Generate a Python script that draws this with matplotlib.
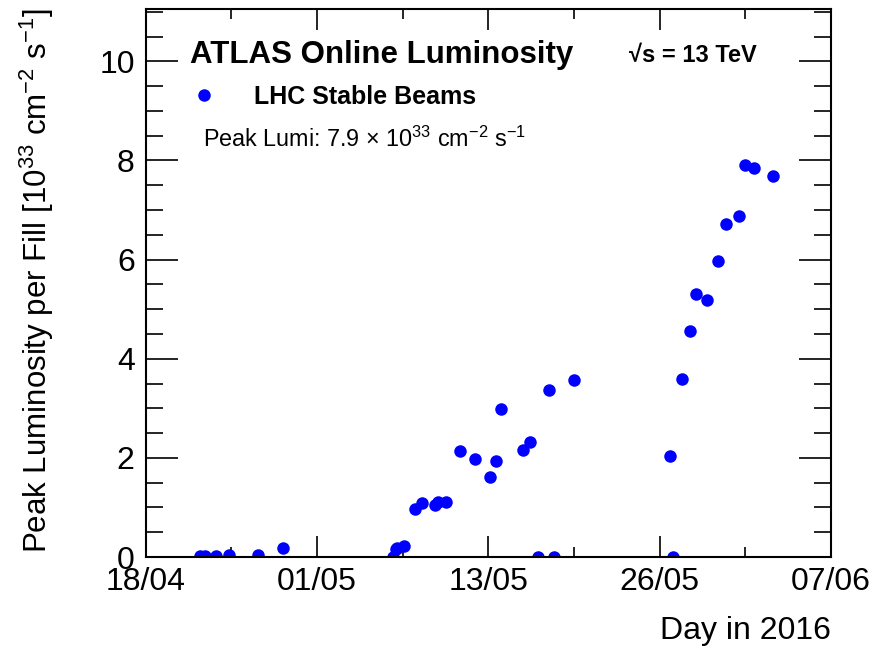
from matplotlib import pyplot as plt
from matplotlib.ticker import MultipleLocator
import numpy as np

plt.rcParams['font.family'] = ['Liberation Sans', 'DejaVu Sans']
plt.rcParams['mathtext.fontset'] = 'custom'
plt.rcParams['mathtext.rm'] = 'Liberation Sans'
plt.rcParams['mathtext.it'] = 'Liberation Sans:italic'
plt.rcParams['mathtext.bf'] = 'Liberation Sans:bold'
plt.rcParams['mathtext.default'] = 'regular'

# days since 18/04/2016 00:00
days = [3.94, 4.31, 5.09, 6.08, 8.20, 10.02,
        18.05, 18.25, 18.34, 18.85, 19.61, 20.15, 21.07, 21.29, 21.92,
        22.94, 23.99, 25.13, 25.55, 25.91, 27.50, 28.01, 28.64, 29.39,
        29.78, 31.26, 38.23, 38.49, 39.12, 39.71, 40.17, 40.95, 41.73,
        42.34, 43.28, 43.72, 44.38, 45.74]
peak_lumi = [0.02, 0.02, 0.02, 0.05, 0.05, 0.19,
             0.0, 0.16, 0.18, 0.22, 0.96, 1.08, 1.04, 1.10, 1.10,
             2.13, 1.97, 1.62, 1.93, 2.99, 2.15, 2.32, 0.0, 3.36,
             0.0, 3.58, 2.03, 0.0, 3.60, 4.57, 5.31, 5.19, 5.97,
             6.71, 6.89, 7.90, 7.85, 7.69]

tick_pos = [0, 12.5, 25, 37.5, 50]
tick_labels = ['18/04', '01/05', '13/05', '26/05', '07/06']

fig = plt.figure(figsize=(8.84, 6.48), dpi=100)
ax = fig.add_axes([0.165, 0.1404, 0.775, 0.846])

ax.plot(days, peak_lumi, 'o', color='blue', markersize=9, markeredgewidth=0,
        label='LHC Stable Beams')

ax.set_xlim(0, 50)
ax.set_ylim(0, 11.06)
ax.set_xticks(tick_pos)
ax.set_xticklabels(tick_labels)
ax.xaxis.set_minor_locator(MultipleLocator(6.25))
ax.yaxis.set_major_locator(MultipleLocator(2))
ax.yaxis.set_minor_locator(MultipleLocator(0.5))

ax.tick_params(which='both', direction='in', top=True, right=True,
               labelsize=23, width=1.2, colors='black')
ax.tick_params(axis='x', which='major', length=15, pad=7)
ax.tick_params(axis='x', which='minor', length=7)
ax.tick_params(axis='y', which='major', length=23, pad=8)
ax.tick_params(axis='y', which='minor', length=12)
for s in ax.spines.values():
    s.set_linewidth(1.5)

ax.set_xlabel('Day in 2016', fontsize=23, loc='right', labelpad=14)
ax.set_ylabel(r'Peak Luminosity per Fill [10$^{33}$ cm$^{-2}$ s$^{-1}$]',
              fontsize=22.5, loc='top', labelpad=31)

ax.text(0.065, 0.915, 'ATLAS Online Luminosity', transform=ax.transAxes,
        fontsize=22.5, fontweight='bold', va='center', ha='left')
ax.text(0.705, 0.915, '√s = 13 TeV', transform=ax.transAxes,
        fontsize=17, fontweight='bold', va='center', ha='left')
ax.text(0.083, 0.762,
        r'Peak Lumi: 7.9 $\times$ 10$^{33}$ cm$^{-2}$ s$^{-1}$',
        transform=ax.transAxes, fontsize=16.8, va='center', ha='left')

ax.legend(loc='center left', bbox_to_anchor=(0.07, 0.84), frameon=False,
          prop={'size': 18, 'weight': 'bold'}, handlelength=0.8,
          handletextpad=1.6, borderpad=0, borderaxespad=0)

fig.savefig('out.png', dpi=100)
